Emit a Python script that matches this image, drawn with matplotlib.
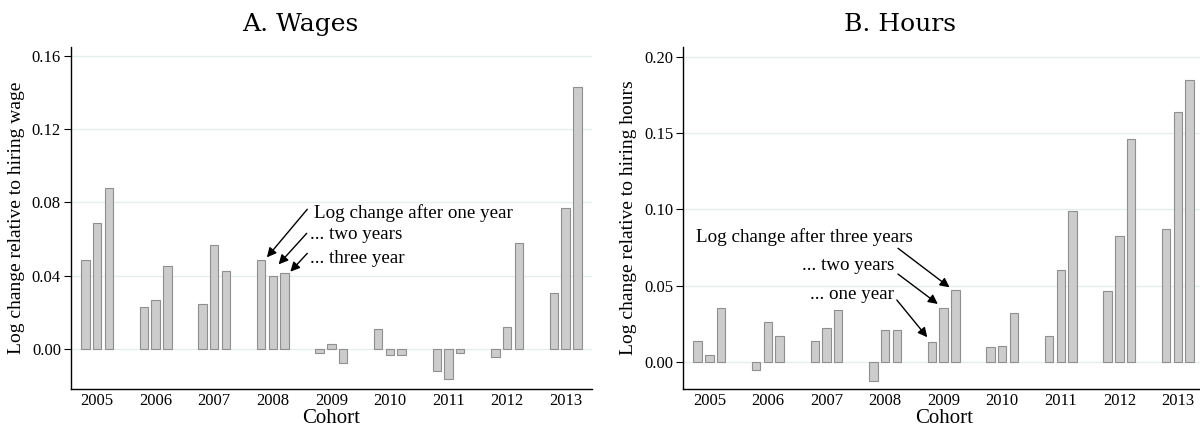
import numpy as np
import matplotlib.pyplot as plt

cohorts = [2005, 2006, 2007, 2008, 2009, 2010, 2011, 2012, 2013]

# log change relative to hiring wage after one, two and three years
wage_1y = [0.0485, 0.0231, 0.0245, 0.0487, -0.0018, 0.0113, -0.0120, -0.0040, 0.0305]
wage_2y = [0.0688, 0.0269, 0.0567, 0.0400, 0.0031, -0.0033, -0.0163, 0.0120, 0.0768]
wage_3y = [0.0879, 0.0452, 0.0427, 0.0414, -0.0076, -0.0033, -0.0018, 0.0579, 0.1428]

# log change relative to hiring hours
hours_1y = [0.0136, -0.0052, 0.0140, -0.0122, 0.0129, 0.0098, 0.0168, 0.0463, 0.0874]
hours_2y = [0.0048, 0.0262, 0.0225, 0.0208, 0.0354, 0.0107, 0.0605, 0.0828, 0.1637]
hours_3y = [0.0354, 0.0168, 0.0339, 0.0212, 0.0470, 0.0319, 0.0988, 0.1464, 0.1845]

wage_ticks = [0.00, 0.04, 0.08, 0.12, 0.16]
hours_ticks = [0.00, 0.05, 0.10, 0.15, 0.20]

serif = 'Liberation Serif'
bar_fill = '#cccccc'
bar_edge = '#8f8f8f'
grid_col = '#e6eded'

fig = plt.figure(figsize=(12, 4.28), dpi=100)
ax1 = fig.add_axes([0.0589, 0.0911, 0.4344, 0.8000])
ax2 = fig.add_axes([0.5692, 0.0911, 0.4344, 0.8000])


def draw_panel(ax, series, ticks, ylim, ylabel):
    x = np.array(cohorts, dtype=float)
    for off, vals in zip([-0.2, 0.0, 0.2], series):
        ax.bar(x + off, vals, width=0.145, color=bar_fill,
               edgecolor=bar_edge, linewidth=0.8, zorder=3)
    ax.set_xlim(2004.55, 2013.45)
    ax.set_ylim(*ylim)
    ax.set_yticks(ticks)
    ax.set_yticklabels([f'{t:.2f}' for t in ticks], fontfamily=serif, fontsize=12)
    ax.set_xticks(cohorts)
    ax.set_xticklabels([str(c) for c in cohorts], fontfamily=serif, fontsize=12)
    ax.tick_params(axis='x', length=0, pad=3)
    ax.tick_params(axis='y', length=5, width=0.8, direction='out', pad=2)
    ax.yaxis.grid(True, color=grid_col, linewidth=1.0, zorder=0)
    ax.set_axisbelow(True)
    for side in ['top', 'right']:
        ax.spines[side].set_visible(False)
    for side in ['left', 'bottom']:
        ax.spines[side].set_linewidth(1.0)
    ax.set_xlabel('Cohort', fontfamily=serif, fontsize=15, labelpad=0)
    ax.set_ylabel(ylabel, fontfamily=serif, fontsize=14, labelpad=5)


draw_panel(ax1, [wage_1y, wage_2y, wage_3y], wage_ticks, (-0.0216, 0.1649),
           'Log change relative to hiring wage')
draw_panel(ax2, [hours_1y, hours_2y, hours_3y], hours_ticks, (-0.0177, 0.2066),
           'Log change relative to hiring hours')

arrow = dict(arrowstyle='-|>', color='black', lw=1.0, mutation_scale=14,
             shrinkA=0, shrinkB=0)
txt = dict(fontfamily=serif, fontsize=13.7, va='center')

# wages: labels point at the 2008 bars
ax1.annotate('', xy=(2007.90, 0.0501), xytext=(2008.59, 0.0763), arrowprops=arrow)
ax1.annotate('', xy=(2008.10, 0.0463), xytext=(2008.58, 0.0632), arrowprops=arrow)
ax1.annotate('', xy=(2008.30, 0.0423), xytext=(2008.59, 0.0523), arrowprops=arrow)
ax1.text(2008.70, 0.0741, 'Log change after one year', ha='left', **txt)
ax1.text(2008.63, 0.0628, '... two years', ha='left', **txt)
ax1.text(2008.63, 0.0496, '... three year', ha='left', **txt)

# hours: labels point at the 2009 bars
ax2.annotate('', xy=(2009.10, 0.0489), xytext=(2008.22, 0.0745), arrowprops=arrow)
ax2.annotate('', xy=(2008.90, 0.0380), xytext=(2008.22, 0.0576), arrowprops=arrow)
ax2.annotate('', xy=(2008.72, 0.0162), xytext=(2008.20, 0.0406), arrowprops=arrow)
ax2.text(2004.77, 0.0817, 'Log change after three years', ha='left', **txt)
ax2.text(2008.16, 0.0635, '... two years', ha='right', **txt)
ax2.text(2008.16, 0.0439, '... one year', ha='right', **txt)

fig.text(0.25, 0.942, 'A. Wages', ha='center', va='center',
         fontfamily='DejaVu Serif', fontsize=18)
fig.text(0.75, 0.942, 'B. Hours', ha='center', va='center',
         fontfamily='DejaVu Serif', fontsize=18)

fig.savefig('out.png', dpi=100)
